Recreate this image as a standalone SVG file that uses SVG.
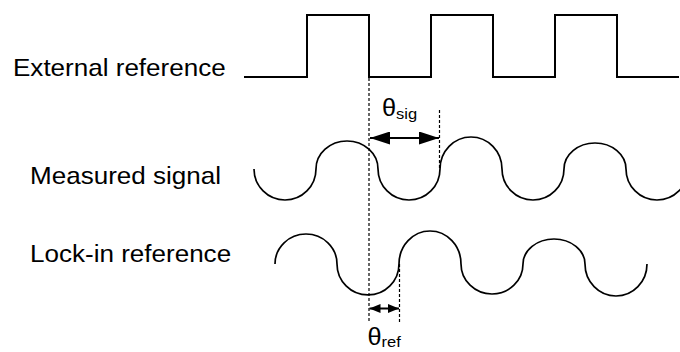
<svg xmlns="http://www.w3.org/2000/svg" width="680" height="352" viewBox="0 0 680 352">
<style>
.lbl{font-family:"Liberation Sans",Arial,sans-serif;font-size:24px;fill:#000}
.sym{font-family:"Liberation Sans",Arial,sans-serif;font-size:23px;fill:#000}
.sub{font-size:15px}
.sq{fill:none;stroke:#000;stroke-width:2}
.wave{fill:none;stroke:#000;stroke-width:1.7}
.dash{fill:none;stroke:#000;stroke-width:1.2;stroke-dasharray:3 2}
.arr{fill:none;stroke:#000;stroke-width:2}
</style>
<defs>
<marker id="bigHead" markerUnits="userSpaceOnUse" markerWidth="20" markerHeight="13" refX="20" refY="6.5" orient="auto-start-reverse" viewBox="0 0 20 13">
<path d="M0,0 L20,6.5 L0,13 z" fill="#000"/>
</marker>
<marker id="smallHead" markerUnits="userSpaceOnUse" markerWidth="11" markerHeight="9" refX="11" refY="4.5" orient="auto-start-reverse" viewBox="0 0 11 9">
<path d="M0,0 L11,4.5 L0,9 z" fill="#000"/>
</marker>
</defs>

<g id="external-reference">
<text class="lbl" transform="translate(13,76) scale(1.085,1)">External reference</text>
<path class="sq" d="M244,77 H307 V15 H369 V77 H431 V15 H493 V77 H555 V15 H617 V77 H679"/>
</g>

<g id="measured-signal">
<text class="lbl" transform="translate(30,184) scale(1.085,1)">Measured signal</text>
<path class="wave" d="M254,169 A31,31 0 0 0 316,169 A31,28 0 0 1 378,169 A31,31 0 0 0 440,169 A31,32 0 0 1 502,169 A31,31 0 0 0 564,169 A31,26 0 0 1 626,169 A31,31 0 0 0 688,169"/>
</g>

<g id="lockin-reference">
<text class="lbl" transform="translate(30,262) scale(1.085,1)">Lock-in reference</text>
<path class="wave" d="M275,264 A31,30 0 0 1 337,264 A31,31 0 0 0 399,264 A31,33 0 0 1 461,264 A31,30 0 0 0 523,264 A31,25 0 0 1 585,264 A31,32 0 0 0 647,264"/>
</g>

<g id="connectors">
<line class="dash" x1="369" y1="78" x2="369" y2="323"/>
<line class="dash" x1="439.5" y1="110" x2="439.5" y2="169"/>
<line class="dash" x1="399.5" y1="264" x2="399.5" y2="323"/>
<line class="arr" x1="370" y1="138" x2="439" y2="138" marker-start="url(#bigHead)" marker-end="url(#bigHead)"/>
<line class="arr" x1="369.5" y1="308.5" x2="399" y2="308.5" marker-start="url(#smallHead)" marker-end="url(#smallHead)"/>
</g>

<g id="theta-sig">
<text class="sym" transform="translate(382,116) scale(1.1,1)">θ<tspan class="sub" dy="3">sig</tspan></text>
</g>
<g id="theta-ref">
<text class="sym" transform="translate(367.5,345) scale(1.1,1)">θ<tspan class="sub" dy="2">ref</tspan></text>
</g>
</svg>
